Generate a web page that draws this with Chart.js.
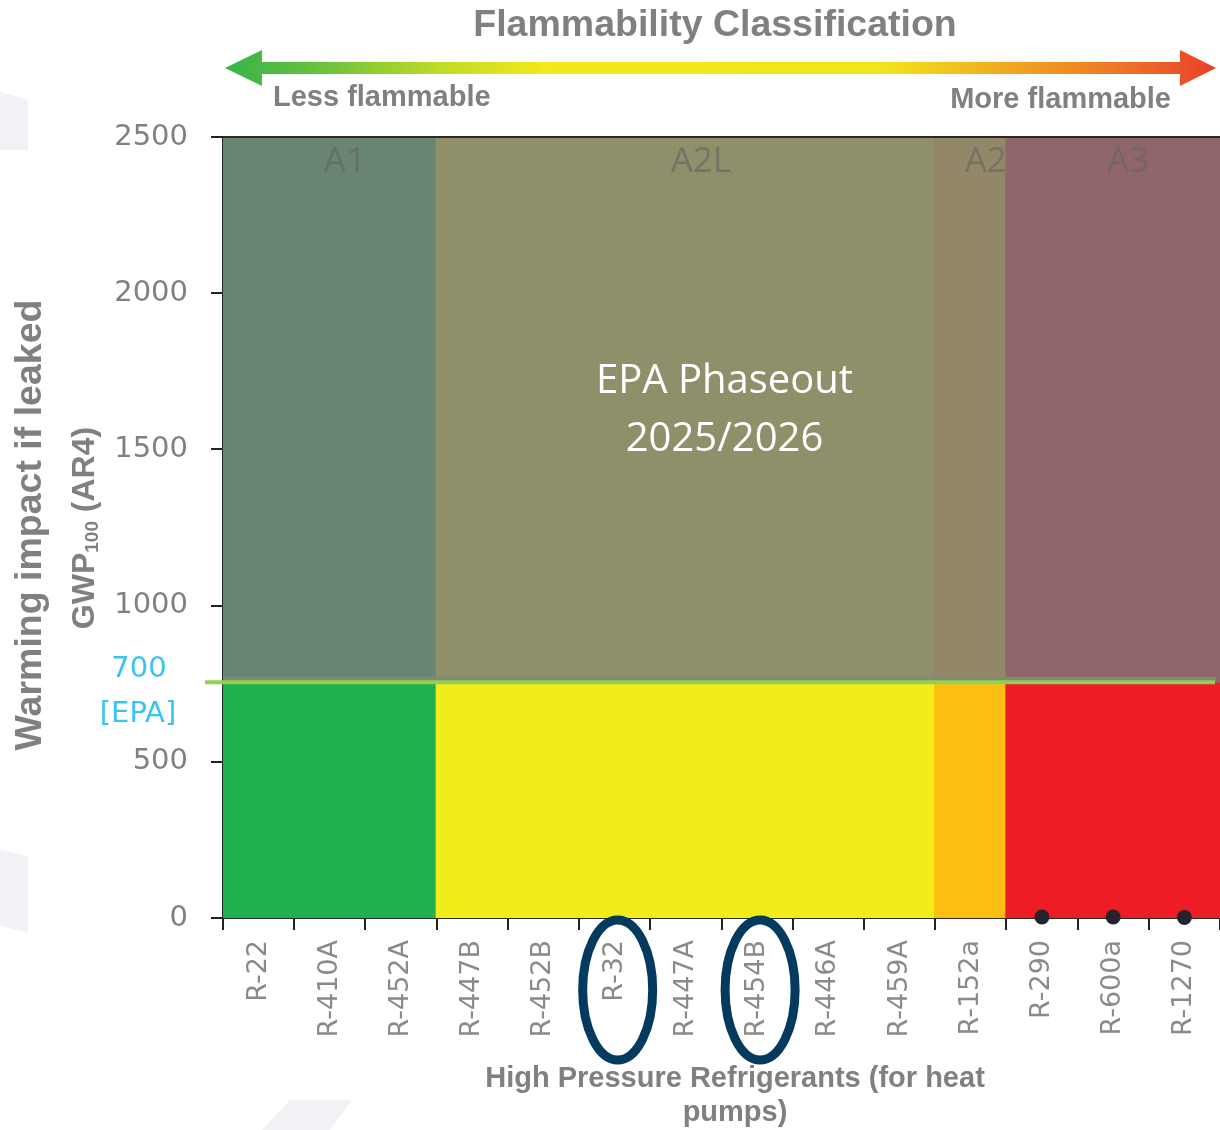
<!DOCTYPE html>
<html>
<head>
<meta charset="utf-8">
<script src="https://cdn.jsdelivr.net/npm/chart.js@4.4.1/dist/chart.umd.min.js"></script>
<style>
    html, body { margin: 0; padding: 0; background: #ffffff; }
    #wrap { width: 1220px; height: 1130px; }
</style>
</head>
<body>
<div id="wrap"><canvas id="gwpChart" width="1220" height="1130"></canvas></div>
<script>
// DATA
const refrigerants = ["R-22", "R-410A", "R-452A", "R-447B", "R-452B", "R-32", "R-447A",
    "R-454B", "R-446A", "R-459A", "R-152a", "R-290", "R-600a", "R-1270"];
const safetyClass = ["A1", "A1", "A1", "A2L", "A2L", "A2L", "A2L",
    "A2L", "A2L", "A2L", "A2", "A3", "A3", "A3"];
const lowGwpDots = [null, null, null, null, null, null, null, null, null, null, null, 3, 3, 2];
const classNames = ["A1", "A2L", "A2", "A3"];
const yTicks = [0, 500, 1000, 1500, 2000, 2500];
const circled = ["R-32", "R-454B"];
const epaLimit = 750;
const yMax = 2500;

// COLOURS
const belowColors = { A1: "#1fb04f", A2L: "#f1ec1a", A2: "#fcbe12", A3: "#ee1d25" };
const aboveColors = { A1: "#688574", A2L: "#8f8f6a", A2: "#928869", A3: "#8f666a" };
const greyText = "#808080";

const lowerBand = refrigerants.map(() => epaLimit);
const upperBand = refrigerants.map(() => yMax - epaLimit);

// DRAWING PLUGIN
const decor = {
    id: "decor",
    beforeDraw(chart) {
        const ctx = chart.ctx;
        ctx.save();
        ctx.fillStyle = "#ffffff";
        ctx.fillRect(0, 0, chart.width, chart.height);
        // faint slide watermark
        ctx.fillStyle = "#f0f2f5";
        ctx.beginPath();
        ctx.moveTo(0, 92); ctx.lineTo(28, 100); ctx.lineTo(28, 150); ctx.lineTo(0, 150);
        ctx.closePath();
        ctx.fill();
        ctx.beginPath();
        ctx.moveTo(0, 850); ctx.lineTo(28, 856); ctx.lineTo(28, 932); ctx.lineTo(0, 926);
        ctx.closePath();
        ctx.fill();
        ctx.beginPath();
        ctx.moveTo(290, 1100); ctx.lineTo(352, 1100); ctx.lineTo(330, 1130); ctx.lineTo(262, 1130);
        ctx.closePath();
        ctx.fill();
        ctx.restore();
    },
    afterDatasetsDraw(chart) {
        const ctx = chart.ctx;
        const x = chart.scales.x, y = chart.scales.y;
        const area = chart.chartArea;
        ctx.save();

        // class labels
        ctx.font = "35px 'Liberation Sans Narrow', 'Open Sans', sans-serif";
        ctx.fillStyle = "rgba(100,100,100,0.62)";
        ctx.textAlign = "center";
        ctx.textBaseline = "middle";
        classNames.forEach(c => {
            const first = safetyClass.indexOf(c);
            const last = safetyClass.lastIndexOf(c);
            const cx = (x.getPixelForValue(first) + x.getPixelForValue(last)) / 2 + 15;
            ctx.fillText(c, cx, y.getPixelForValue(2420));
        });

        // top frame line
        ctx.strokeStyle = "#2a2a20";
        ctx.lineWidth = 2;
        ctx.beginPath();
        ctx.moveTo(area.left, area.top);
        ctx.lineTo(area.right, area.top);
        ctx.stroke();

        // EPA limit line
        const ly = y.getPixelForValue(epaLimit);
        ctx.fillStyle = "#7f8b78";
        ctx.fillRect(area.left, ly - 7, area.right - area.left - 4, 4);
        ctx.strokeStyle = "#92d050";
        ctx.lineWidth = 4;
        ctx.beginPath();
        ctx.moveTo(205, ly - 1.5);
        ctx.lineTo(1215, ly - 1.5);
        ctx.stroke();

        // phaseout text
        ctx.font = "40px 'Open Sans', sans-serif";
        ctx.fillStyle = "#ffffff";
        ctx.textAlign = "center";
        const mid = (area.left + area.right) / 2 + 3;
        ctx.fillText("EPA Phaseout", mid, y.getPixelForValue(1716));
        ctx.fillText("2025/2026", mid, y.getPixelForValue(1530));
        ctx.restore();
    },
    afterDraw(chart) {
        const ctx = chart.ctx;
        const x = chart.scales.x, y = chart.scales.y;
        ctx.save();

        // title
        ctx.fillStyle = greyText;
        ctx.textAlign = "center";
        ctx.textBaseline = "middle";
        ctx.font = "bold 37.5px 'Liberation Sans', Arial, sans-serif";
        ctx.fillText("Flammability Classification", 715, 26);

        // gradient arrow
        const grad = ctx.createLinearGradient(225, 0, 1215, 0);
        grad.addColorStop(0, "#36b34a");
        grad.addColorStop(0.1, "#6cc23c");
        grad.addColorStop(0.22, "#c2db26");
        grad.addColorStop(0.32, "#f2e81a");
        grad.addColorStop(0.66, "#f2e51a");
        grad.addColorStop(0.8, "#f1a421");
        grad.addColorStop(0.9, "#ee7726");
        grad.addColorStop(1, "#e9402a");
        ctx.fillStyle = grad;
        ctx.beginPath();
        ctx.moveTo(225, 68);
        ctx.lineTo(262, 50);
        ctx.lineTo(262, 62);
        ctx.lineTo(1180, 62);
        ctx.lineTo(1180, 50);
        ctx.lineTo(1216, 68);
        ctx.lineTo(1180, 86);
        ctx.lineTo(1180, 74);
        ctx.lineTo(262, 74);
        ctx.lineTo(262, 86);
        ctx.closePath();
        ctx.fill();

        ctx.fillStyle = greyText;
        ctx.font = "bold 29px 'Liberation Sans', Arial, sans-serif";
        ctx.textAlign = "left";
        ctx.fillText("Less flammable", 273, 98);
        ctx.textAlign = "right";
        ctx.fillText("More flammable", 1171, 100);

        // y axis titles
        ctx.save();
        ctx.translate(31, 525);
        ctx.rotate(-Math.PI / 2);
        ctx.textAlign = "center";
        ctx.font = "bold 37.5px 'Liberation Sans', Arial, sans-serif";
        ctx.fillText("Warming impact if leaked", 0, 0);
        ctx.restore();

        ctx.save();
        ctx.translate(85, 528);
        ctx.rotate(-Math.PI / 2);
        ctx.textAlign = "left";
        const big = "bold 32px 'Liberation Sans', Arial, sans-serif";
        const small = "bold 19px 'Liberation Sans', Arial, sans-serif";
        ctx.font = big;
        const w1 = ctx.measureText("GWP").width;
        const w3 = ctx.measureText(" (AR4)").width;
        ctx.font = small;
        const w2 = ctx.measureText("100").width;
        let px = -(w1 + w2 + w3) / 2;
        ctx.font = big;
        ctx.fillText("GWP", px, 0);
        px += w1;
        ctx.font = small;
        ctx.fillText("100", px, 8);
        px += w2;
        ctx.font = big;
        ctx.fillText(" (AR4)", px, 0);
        ctx.restore();

        // EPA label
        ctx.fillStyle = "#38c4f2";
        ctx.textAlign = "center";
        ctx.font = "29px 'DejaVu Sans', sans-serif";
        ctx.fillText("700", 139, y.getPixelForValue(794));
        ctx.fillText("[EPA]", 138, y.getPixelForValue(650));

        // circled refrigerants
        ctx.strokeStyle = "#043a5e";
        ctx.lineWidth = 9;
        circled.forEach(name => {
            const cx = x.getPixelForValue(refrigerants.indexOf(name)) + 3;
            ctx.beginPath();
            ctx.ellipse(cx, 990, 35, 70, 0, 0, Math.PI * 2);
            ctx.stroke();
        });

        // x axis title
        ctx.fillStyle = greyText;
        ctx.font = "bold 29px 'Liberation Sans', Arial, sans-serif";
        ctx.fillText("High Pressure Refrigerants (for heat", 735, 1079);
        ctx.fillText("pumps)", 735, 1113);
        ctx.restore();
    }
};

// CHART
new Chart(document.getElementById("gwpChart"), {
    type: "bar",
    data: {
        labels: refrigerants,
        datasets: [
            {
                type: "line",
                label: "Low GWP",
                data: lowGwpDots,
                stack: "dots",
                order: 0,
                clip: false,
                showLine: false,
                pointRadius: 7.5,
                pointBackgroundColor: "#25232e",
                pointBorderWidth: 0
            },
            {
                label: "Below limit",
                data: lowerBand,
                stack: "band",
                order: 1,
                backgroundColor: safetyClass.map(c => belowColors[c]),
                borderWidth: 0,
                inflateAmount: 1,
                barPercentage: 1,
                categoryPercentage: 1
            },
            {
                label: "Above limit",
                data: upperBand,
                stack: "band",
                order: 1,
                backgroundColor: safetyClass.map(c => aboveColors[c]),
                borderWidth: 0,
                inflateAmount: 1,
                barPercentage: 1,
                categoryPercentage: 1
            }
        ]
    },
    options: {
        responsive: false,
        devicePixelRatio: 1,
        animation: false,
        layout: { autoPadding: false, padding: { top: 137, left: 0, right: 0, bottom: 0 } },
        plugins: {
            legend: { display: false },
            tooltip: { enabled: false }
        },
        scales: {
            x: {
                stacked: true,
                offset: true,
                afterFit: s => { s.height = 212; s.paddingRight = 0; s.paddingLeft = 0; },
                grid: { offset: true, drawOnChartArea: false, tickLength: 12, color: "#222", lineWidth: 2 },
                border: { color: "#2a2a20", width: 2 },
                ticks: {
                    minRotation: 90,
                    maxRotation: 90,
                    padding: 10,
                    color: "#8a8a8a",
                    font: { family: "'DejaVu Sans', sans-serif", size: 27 }
                }
            },
            y: {
                stacked: true,
                min: 0,
                max: yMax,
                afterFit: s => { s.width = 223; s.paddingTop = 0; s.paddingBottom = 0; },
                afterBuildTicks: s => { s.ticks = yTicks.map(v => ({ value: v })); },
                grid: { drawOnChartArea: false, tickLength: 12, color: "#222", lineWidth: 2 },
                border: { color: "#1d2e1d", width: 2 },
                ticks: {
                    padding: 23,
                    color: greyText,
                    callback: v => String(v),
                    font: { family: "'DejaVu Sans', sans-serif", size: 29 }
                }
            }
        }
    },
    plugins: [decor]
});
</script>
</body>
</html>
